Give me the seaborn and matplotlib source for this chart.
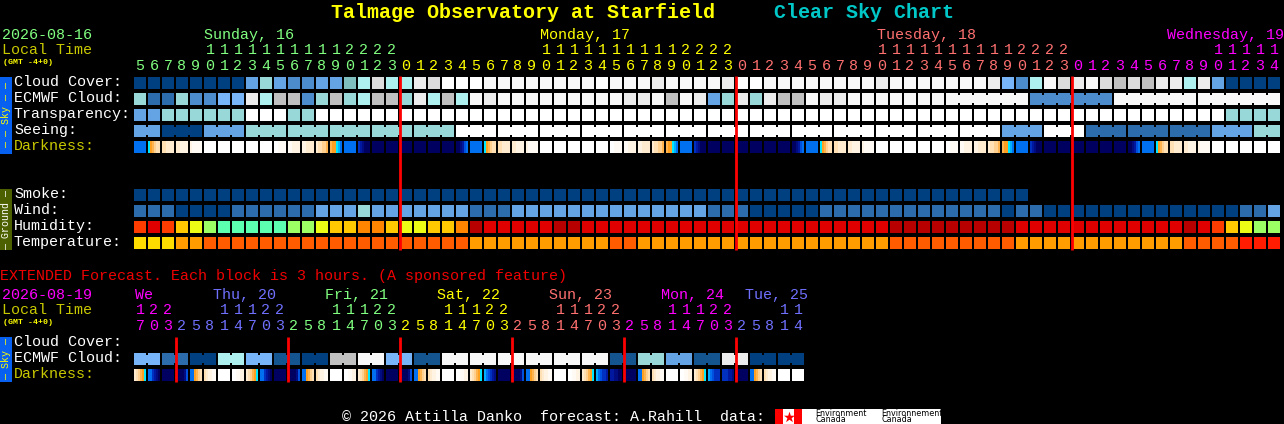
import numpy as np
import matplotlib
matplotlib.use("Agg")
import matplotlib.pyplot as plt
from matplotlib.colors import ListedColormap
from matplotlib.patches import Rectangle
import seaborn as sns

W, H = 1284, 424
FONT = "Liberation Mono"
N = float("nan")

# ---------- colour scales (index = value) ----------
sky_colors = ["#ffffff", "#f8f8f8", "#ececec", "#dcdcdc", "#c0c0c0", "#aef0f0", "#98d8d8",
              "#78b4f8", "#64a4e4", "#4c8ccc", "#2c6cac", "#14548f", "#004080", "#7fbfbf"]
hum_colors = ["#b80000", "#e00000", "#ff3c00", "#ff8400", "#ffc800", "#ecfc14", "#9cff64", "#5cffb0"]
temp_colors = ["#ff1c00", "#ff5c00", "#ff9c00", "#ffdc00"]
dark_colors = ["#ffffff", "#fffaf4", "#fff4e4", "#ffecd0", "#ffe0b4", "#ffd090", "#ffb450", "#ffa020",
               "#00e8ff", "#00b0ff", "#0070f0", "#0050e0", "#0030c0", "#0018a0", "#000c80", "#000060"]

# ---------- main block: hours ----------
hours_sun = [5, 6, 7, 8, 9, 10, 11, 12, 13, 14, 15, 16, 17, 18, 19, 20, 21, 22, 23]
hours_mon = [0, 1, 2, 3, 4, 5, 6, 7, 8, 9, 10, 11, 12, 13, 14, 15, 16, 17, 18, 19, 20, 21, 22, 23]
hours_tue = [0, 1, 2, 3, 4, 5, 6, 7, 8, 9, 10, 11, 12, 13, 14, 15, 16, 17, 18, 19, 20, 21, 22, 23]
hours_wed = [0, 1, 2, 3, 4, 5, 6, 7, 8, 9, 10, 11, 12, 13, 14]
hours_groups = [(hours_sun, "#80ff80"), (hours_mon, "#ffff00"), (hours_tue, "#ff7070"), (hours_wed, "#ff00ff")]
day_labels = [("Sunday, 16", 204, "#80ff80"), ("Monday, 17", 540, "#ffff00"),
              ("Tuesday, 18", 877, "#ff7070"), ("Wednesday, 19", 1167, "#ff00ff")]

# ---------- main block: hourly series ----------
cloud = [12, 12, 12, 12, 12, 12, 12, 12, 8, 6, 8, 9, 9, 8, 8, 13, 5, 3, 5, 5,
         2, 3, 0, 0, 0, 1, 1, 1, 1, 1, 1, 1, 1, 0, 1, 1, 1, 2, 1, 1,
         1, 1, 2, 0, 0, 1, 1, 1, 1, 1, 1, 1, 1, 2, 1, 1, 1, 1, 1, 1,
         1, 2, 7, 9, 5, 1, 3, 2, 1, 3, 4, 3, 4, 2, 2, 5, 2, 8, 12, 12, 12, 12]
ecmwf = [6, 10, 10, 6, 9, 9, 7, 7, 2, 5, 4, 4, 9, 6, 4, 6, 5, 4, 4, 6,
         2, 5, 4, 5, 1, 2, 1, 1, 1, 1, 1, 1, 1, 1, 1, 2, 2, 1, 4, 1,
         2, 8, 6, 2, 6, 2, 4, 4, 1, 2, 2, 1, 1, 1, 1, 1, 1, 1, 1, 1,
         1, 1, 1, 1, 9, 9, 9, 9, 9, 9, 1, 1, 1, 1, 1, 1, 1, 1, 1, 1, 1, 1]
ecmwf_joined = [58, 59, 60, 61, 62, 64, 65, 66, 67, 68, 70, 71, 72, 73, 74, 76, 77, 78, 79, 80]
transparency = [8, 8, 6, 6, 6, 6, 6, 6, 0, 0, 0, 6, 6] + [0] * 65 + [6, 6, 6, 6]
seeing_blocks = [8, 12, 8, 6, 6, 6, 6, 6] + [0] * 13 + [8, 0, 10, 10, 10, 8, 6]
seeing_sizes = [2] + [3] * 26 + [2]
smoke = [12] * 64 + [N] * 18
wind = [10, 10, 10, 12, 12, 12, 12, 10, 10, 10, 10, 10, 10, 8, 8, 8, 6, 8, 8, 8, 8, 8, 8, 8,
        10, 10, 10] + [8] * 14 + [10, 10, 10] + [12] * 5 + [10] * 13 + [12, 10, 10] + [12] * 14 + [10, 10, 8]
humidity = [2, 1, 2, 4, 5, 6, 7, 7, 7, 7, 7, 6, 6, 5, 4, 4, 3, 3, 4, 5, 5, 4, 4, 3,
            0, 1, 1, 1, 1, 1, 0, 0] + [1] * 22 + [0] * 9 + [1] * 12 + [0, 1, 2, 4, 5, 6, 6]
temperature = [3, 3, 3, 2, 2] + [1] * 19 + [2] * 10 + [1, 1] + [2] * 18 + [1] * 9 + [2] * 12 + [1] * 4 + [0, 0, 0]

# darkness: a single number = flat cell, six numbers = left-to-right reading across a cell
DAWN1 = (8, 7, 6, 5, 4, 4)
DAWN2 = (4, 4, 3, 3, 3, 3)
DAWN3 = (3, 3, 2, 2, 2, 2)
DAWN4 = (2, 1, 1, 1, 1, 1)
EVE1 = (0, 0, 1, 1, 1, 1)
EVE2 = (1, 1, 2, 2, 2, 2)
EVE3 = (2, 2, 3, 3, 3, 3)
EVE4 = (3, 4, 4, 5, 5, 6)
EVE5 = (6, 7, 7, 8, 9, 10)
NIGHT_IN = (12, 13, 14, 15, 15, 15)
NIGHT_OUT = (15, 15, 14, 13, 11, 10)
dark_sun = [10, DAWN1, DAWN2, DAWN3, DAWN4, 0, 0, 0, 0, 0, EVE1, EVE2, EVE3, EVE4, EVE5, 10, NIGHT_IN,
            15, 15, 15, 15, 15, 15, NIGHT_OUT]
dark_mon = [10, DAWN1, DAWN2, DAWN3, DAWN4, 0, 0, 0, 0, 0, EVE1, EVE2, EVE3, EVE4, EVE5, 10, NIGHT_IN,
            15, 15, 15, 15, 15, 15, NIGHT_OUT]
dark_tue = [10, DAWN1, DAWN2, DAWN3, DAWN4, 0, 0, 0, 0, 0, EVE1, EVE2, EVE3, EVE4, EVE5, 10, NIGHT_IN,
            15, 15, 15, 15, 15, 15, NIGHT_OUT]
dark_wed = [10, DAWN1, DAWN2, DAWN3, DAWN4, 0, 0, 0, 0, 0]
darkness = dark_sun + dark_mon + dark_tue + dark_wed

# ---------- extended block ----------
ext_hours = [17, 20, 23, 2, 5, 8, 11, 14, 17, 20, 23, 2, 5, 8, 11, 14, 17, 20, 23, 2, 5, 8, 11, 14,
             17, 20, 23, 2, 5, 8, 11, 14, 17, 20, 23, 2, 5, 8, 11, 14, 17, 20, 23, 2, 5, 8, 11, 14]
ext_hour_colors = ["#ff00ff"] * 3 + ["#7070ff"] * 8 + ["#80ff80"] * 8 + ["#ffff00"] * 8 + ["#ff7070"] * 8 + \
                  ["#ff00ff"] * 8 + ["#7070ff"] * 5
ext_day_labels = [("We", 135, "#ff00ff"), ("Thu, 20", 213, "#7070ff"), ("Fri, 21", 325, "#80ff80"),
                  ("Sat, 22", 437, "#ffff00"), ("Sun, 23", 549, "#ff7070"), ("Mon, 24", 661, "#ff00ff"),
                  ("Tue, 25", 745, "#7070ff")]
ext_ecmwf = [7, 10, 12, 5, 7, 11, 12, 4, 1, 7, 11, 1, 1, 1, 1, 1, 1, 11, 6, 8, 11, 2, 12, 12]

XDUSK = (3, 4, 5, 6, 7, 8)
XNIGHT_IN = (10, 10, 12, 13, 14, 15)
XNIGHT_OUT = (15, 15, 15, 15, 14, 11)
XDAWN = (10, 10, 7, 6, 5, 4)
XMORN = (4, 3, 2, 2, 1, 1)
XEVE = (0, 0, 1, 1, 2, 2)
ext_dark_1 = [XDUSK, XNIGHT_IN, 15, XNIGHT_OUT, XDAWN, XMORN, 0, XEVE]
ext_dark_2 = [XDUSK, XNIGHT_IN, 15, XNIGHT_OUT, XDAWN, XMORN, 0, XEVE]
ext_dark_3 = [XDUSK, XNIGHT_IN, 15, XNIGHT_OUT, XDAWN, XMORN, 0, XEVE]
ext_dark_4 = [XDUSK, (9, 10, 11, 12, 13, 14), 15, XNIGHT_OUT, XDAWN, XMORN, 0, XEVE]
ext_dark_5 = [XDUSK, (9, 10, 11, 12, 12, 13), (13, 13, 14, 14, 15, 15), 15, XDAWN, XMORN, 0, XEVE]
ext_dark_6 = [XDUSK, (9, 10, 11, 12, 12, 12), (12, 12, 12, 13, 13, 14), 15, XDAWN, XMORN, 0, 0]
ext_darkness = ext_dark_1 + ext_dark_2 + ext_dark_3 + ext_dark_4 + ext_dark_5 + ext_dark_6

# ---------- figure ----------
sns.set_theme(style="white")
plt.rcParams["font.family"] = [FONT, "DejaVu Sans"]
fig = plt.figure(figsize=(W / 100, H / 100), dpi=100, facecolor="black")

base = fig.add_axes([0, 0, 1, 1], zorder=0)
base.set_xlim(0, W)
base.set_ylim(H, 0)
base.set_facecolor("black")
base.axis("off")
top = fig.add_axes([0, 0, 1, 1], zorder=5)
top.set_xlim(0, W)
top.set_ylim(H, 0)
top.patch.set_alpha(0)
top.axis("off")


def txt(x, y, s, color="white", px=15, weight="normal", ha="left", **kw):
    base.text(x, y, s, color=color, fontsize=px * 0.72, family=FONT, weight=weight, ha=ha, va="baseline", **kw)


def block_row(cells, ytop, colors, joined=()):
    """12 px blocks on a 14 px pitch: six 2 px columns per block, then a masked 2 px gap."""
    cols = []
    for c in cells:
        cols.extend(list(c) if isinstance(c, tuple) else [c] * 6)
        cols.append(N)
    data = np.array([cols], dtype=float)
    ax = fig.add_axes([134 / W, 1 - (ytop + 12) / H, 14 * len(cells) / W, 12 / H], zorder=1)
    sns.heatmap(data, mask=np.isnan(data), cmap=ListedColormap(colors), vmin=-0.5, vmax=len(colors) - 0.5,
                cbar=False, xticklabels=False, yticklabels=False, ax=ax)
    ax.set_facecolor("black")
    ax.autoscale(False)
    for i in joined:
        ax.barh(0.5, 1, left=7 * i + 6, height=8 / 12, color=colors[int(cells[i])], linewidth=0, zorder=4)
    return ax


# title
txt(331, 18, "Talmage Observatory at Starfield", "#ffff00", 20, "bold")
txt(774, 18, "Clear Sky Chart", "#00c8c8", 20, "bold")

# main header
txt(2, 39, "2026-08-16", "#80ff80")
txt(2, 54, "Local Time", "#c8c800")
txt(3, 64, "(GMT -4+0)", "#ffff00", 8.3, "bold")
for s, x, c in day_labels:
    txt(x, 39, s, c)
i = 0
for hrs, c in hours_groups:
    for h in hrs:
        cx = 140 + 14 * i
        if h >= 10:
            txt(cx, 54, str(h // 10), c, ha="center")
        txt(cx, 70, str(h % 10), c, ha="center")
        i += 1

# main labels
for y, s, c in [(86, "Cloud Cover:", "white"), (102, "ECMWF Cloud:", "white"), (118, "Transparency:", "white"),
                (134, "Seeing:", "white"), (150, "Darkness:", "#c8c800"), (198, "Smoke:", "white"),
                (214, "Wind:", "white"), (230, "Humidity:", "white"), (246, "Temperature:", "white")]:
    txt(14, y, s, c)

# main rows
seeing = [int(v) for v in np.repeat(seeing_blocks, seeing_sizes)]
seeing_joined = []
pos = 0
for size in seeing_sizes:
    seeing_joined.extend(range(pos, pos + size - 1))
    pos += size

block_row(cloud, 77, sky_colors)
block_row(ecmwf, 93, sky_colors, ecmwf_joined)
block_row(transparency, 109, sky_colors)
block_row(seeing, 125, sky_colors, seeing_joined)
block_row(darkness, 141, dark_colors)
block_row(smoke, 189, sky_colors)
block_row(wind, 205, sky_colors)
block_row(humidity, 221, hum_colors)
block_row(temperature, 237, temp_colors)

# extended header
txt(0, 280, "EXTENDED Forecast. Each block is 3 hours. (A sponsored feature)", "#f00000")
txt(2, 299, "2026-08-19", "#ff00ff")
txt(2, 314, "Local Time", "#c8c800")
txt(3, 324, "(GMT -4+0)", "#ffff00", 8.3, "bold")
for s, x, c in ext_day_labels:
    txt(x, 299, s, c)
for i, (h, c) in enumerate(zip(ext_hours, ext_hour_colors)):
    cx = 140 + 14 * i
    if h >= 10:
        txt(cx, 314, str(h // 10), c, ha="center")
    txt(cx, 330, str(h % 10), c, ha="center")
txt(14, 346, "Cloud Cover:")
txt(14, 362, "ECMWF Cloud:")
txt(14, 378, "Darkness:", "#c8c800")

ext_pairs = [int(v) for v in np.repeat(ext_ecmwf, 2)]
block_row(ext_pairs, 353, sky_colors, list(range(0, 48, 2)))
block_row(ext_darkness, 369, dark_colors)

# side bars
for y0, y1, col, label, tc in [(77, 154, "#0860f0", "\u2014 \u2014 Sky \u2014 \u2014", "#ffff00"),
                               (189, 250, "#4c6000", "\u2014 Ground \u2014", "#ffffff"),
                               (337, 382, "#0860f0", "\u2014 Sky \u2014", "#ffff00")]:
    base.add_patch(Rectangle((0, y0), 12, y1 - y0, color=col, lw=0))
    base.text(6, (y0 + y1) / 2, label, color=tc, fontsize=7.2, family=FONT, rotation=90, ha="center", va="center")

# midnight markers
top.vlines([400, 736, 1072], 76, 250, color="#ff0000", lw=2)
top.vlines([176, 288, 400, 512, 624, 736], 337, 382, color="#ff0000", lw=2)

# footer
txt(342, 421, "\u00a9 2026 Attilla Danko  forecast: A.Rahill  data:")
base.add_patch(Rectangle((775, 409), 166, 15, color="white", lw=0))
base.add_patch(Rectangle((775, 409), 8, 15, color="#ff0000", lw=0))
base.add_patch(Rectangle((794, 409), 8, 15, color="#ff0000", lw=0))
base.scatter([788.5], [416.5], marker="*", s=70, color="#ff0000", linewidths=0, zorder=3)
for x, s in [(815, "Environment"), (881, "Environnement")]:
    base.text(x, 413, s, color="black", fontsize=5.8, family="DejaVu Sans", va="center", zorder=3)
    base.text(x, 420, "Canada", color="black", fontsize=5.8, family="DejaVu Sans", va="center", zorder=3)

fig.savefig("out.png", dpi=100, facecolor="black")
